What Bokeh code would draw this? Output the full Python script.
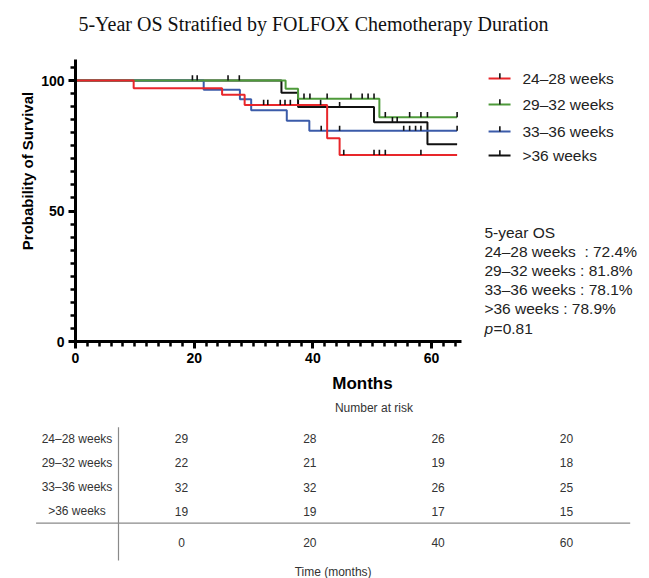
import numpy as np
from bokeh.plotting import figure
from bokeh.models import Range1d, FixedTicker
from bokeh.embed import file_html
from bokeh.resources import INLINE
from bokeh.core.properties import value

# ---------------- data ----------------
groups = ["24\u201328 weeks", "29\u201332 weeks", "33\u201336 weeks", ">36 weeks"]
colors = ["#E8262A", "#4E9A3A", "#3B5BA9", "#111111"]

# Kaplan-Meier step curves (months, % surviving)
red_t = [0, 9.8, 24.7, 28.5, 42.4, 44.5, 64.3]
red_s = [100, 97.0, 94.5, 90.6, 77.9, 71.5, 71.5]
green_t = [0, 35.4, 37.5, 51.2, 64.3]
green_s = [100, 96.8, 93.0, 85.9, 85.9]
blue_t = [0, 21.6, 27.7, 29.6, 35.6, 39.4, 64.3]
blue_s = [100, 96.5, 92.8, 88.6, 84.6, 80.7, 80.7]
black_t = [0, 34.7, 37.5, 50.3, 59.3, 64.3]
black_s = [100, 95.3, 89.8, 84.0, 75.6, 75.6]

# censoring times (months)
red_cens = [31.7, 32.4, 34.5, 35.3, 36.2, 41.3, 45.2, 50.3, 51.2, 52.2, 58.2]
green_cens = [19.7, 20.5, 25.7, 27.6, 38.5, 39.5, 42.4, 46.4, 48.3, 49.3, 50.3,
              52.2, 56.3, 58.2, 59.3, 64.3]
blue_cens = [41.4, 44.5, 55.3, 56.3, 57.3, 58.2, 64.3]
black_cens = [44.5, 53.4, 54.2]

os_lines = ["5-year OS", "24\u201328 weeks\u00a0 : 72.4%", "29\u201332 weeks : 81.8%",
            "33\u201336 weeks : 78.1%", ">36 weeks : 78.9%"]
p_value = "=0.81"

x_ticks = [0, 20, 40, 60]
y_ticks = [0, 50, 100]

risk_times = [0, 20, 40, 60]
risk_24_28 = [29, 28, 26, 20]
risk_29_32 = [22, 21, 19, 18]
risk_33_36 = [32, 32, 26, 25]
risk_gt36 = [19, 19, 17, 15]

# ---------------- KM figure ----------------
FONT = "Liberation Sans"
W = 649
LEFT = 75
FRAME_H = 341
H1 = 398
FRAME_W = W - LEFT
PX_X = 5.935
PX_Y = 2.61

p = figure(width=W, height=H1, output_backend="svg", toolbar_location=None,
           x_range=Range1d(0, FRAME_W / PX_X), y_range=Range1d(0, FRAME_H / PX_Y),
           min_border_left=LEFT, min_border_right=0, min_border_top=0,
           min_border_bottom=H1 - FRAME_H)
p.outline_line_color = None
p.grid.visible = False
p.background_fill_color = "white"
p.border_fill_color = "white"

xa = p.xaxis[0]
xa.bounds = (0, 65)
xa.ticker = FixedTicker(ticks=x_ticks, minor_ticks=list(range(0, 65, 2)))
ya = p.yaxis[0]
ya.bounds = (0, 108)
ya.ticker = FixedTicker(ticks=y_ticks, minor_ticks=list(range(0, 106, 5)))
for ax in (xa, ya):
    ax.axis_line_width = 3
    ax.axis_line_color = "black"
    ax.major_tick_line_width = 3
    ax.major_tick_out = 7
    ax.major_tick_in = 0
    ax.minor_tick_line_width = 2.5
    ax.minor_tick_out = 5
    ax.minor_tick_in = 0
    ax.major_label_text_font = FONT
    ax.major_label_text_font_style = "bold"
    ax.major_label_text_font_size = "14px"
    ax.major_label_text_color = "black"
    ax.axis_label_text_font = FONT
    ax.axis_label_text_font_style = "bold"
    ax.axis_label_text_color = "black"
xa.axis_label = "Months"
xa.axis_label_text_font_size = "17px"
xa.major_label_standoff = 4
xa.axis_label_standoff = 8
ya.axis_label = "Probability of Survival"
ya.axis_label_text_font_size = "15px"
ya.major_label_standoff = 4
ya.axis_label_standoff = 2

curves = [(red_t, red_s, red_cens), (green_t, green_s, green_cens),
          (blue_t, blue_s, blue_cens), (black_t, black_s, black_cens)]

# draw order: black, blue, green, red (red on top)
for i in [3, 2, 1, 0]:
    t, s, _ = curves[i]
    p.step(x=t, y=s, mode="after", line_color=colors[i], line_width=2)

TICK_H = 2.0
for i in [3, 2, 1, 0]:
    t, s, c = curves[i]
    ta = np.array(t)
    sa = np.array(s)
    ca = np.array(c)
    idx = np.searchsorted(ta, ca, side="right") - 1
    lvl = sa[idx]
    p.segment(x0=ca, y0=lvl, x1=ca, y1=lvl + TICK_H, line_color="#111111", line_width=1.6)

# title
p.text(x=[40.1], y=[121.8], text=["5-Year OS Stratified by FOLFOX Chemotherapy Duration"],
       text_font=value("Liberation Serif"), text_font_size=value("20px"),
       text_align="center", text_baseline="middle", text_color="#111111")

# legend (manual)
leg_y = [100.8, 90.8, 80.5, 71.3]
for i in range(4):
    p.segment(x0=[69.6], y0=[leg_y[i]], x1=[73.3], y1=[leg_y[i]],
              line_color=colors[i], line_width=2)
    p.segment(x0=[71.5], y0=[leg_y[i]], x1=[71.5], y1=[leg_y[i] + TICK_H],
              line_color="#111111", line_width=1.6)
p.text(x=[75.3] * 4, y=leg_y, text=groups, text_font=value(FONT),
       text_font_size=value("15.5px"), text_align="left", text_baseline="middle",
       text_color="#222222")

# 5-year OS text block
os_y = [(341 - (232 + 19.1 * k)) / PX_Y for k in range(6)]
p.text(x=[68.9] * 5, y=os_y[:5], text=os_lines, text_font=value(FONT),
       text_font_size=value("15.5px"), text_align="left", text_baseline="middle",
       text_color="#222222")
p.text(x=[68.9], y=[os_y[5]], text=["p"], text_font=value(FONT),
       text_font_size=value("15.5px"), text_font_style="italic", text_align="left",
       text_baseline="middle", text_color="#222222")
p.text(x=[70.45], y=[os_y[5]], text=[p_value], text_font=value(FONT),
       text_font_size=value("15.5px"), text_align="left", text_baseline="middle",
       text_color="#222222")

# ---------------- risk table ----------------
H2 = 578 - H1
page_top = H1
COLW = 128.3
ROWH = 24.1
def col_of(px):
    return (px - 181) / COLW
def row_of(py):
    return (py - 438.3) / ROWH

q = figure(width=W, height=H2, output_backend="svg", toolbar_location=None,
           x_range=Range1d(col_of(0), col_of(W)),
           y_range=Range1d(row_of(page_top + H2), row_of(page_top)),
           x_axis_location=None, y_axis_location=None,
           min_border_left=0, min_border_right=0, min_border_top=0, min_border_bottom=0)
q.outline_line_color = None
q.grid.visible = False

tbl_font = value(FONT)
tbl_size = value("12px")
rows = [risk_24_28, risk_29_32, risk_33_36, risk_gt36]
for r, vals in enumerate(rows):
    q.text(x=list(range(len(vals))), y=[r] * len(vals), text=[str(v) for v in vals],
           text_font=tbl_font, text_font_size=tbl_size, text_align="center",
           text_baseline="middle", text_color="#333333")
q.text(x=[col_of(76.5)] * 4, y=list(range(4)), text=groups, text_font=tbl_font,
       text_font_size=tbl_size, text_align="center", text_baseline="middle",
       text_color="#333333")
q.text(x=list(range(len(risk_times))), y=[row_of(542.3)] * len(risk_times),
       text=[str(v) for v in risk_times], text_font=tbl_font, text_font_size=tbl_size,
       text_align="center", text_baseline="middle", text_color="#333333")
q.text(x=[1.5], y=[row_of(407.7)], text=["Number at risk"], text_font=tbl_font,
       text_font_size=tbl_size, text_align="center", text_baseline="middle",
       text_color="#333333")
q.text(x=[col_of(332.6)], y=[row_of(571.0)], text=["Time (months)"], text_font=tbl_font,
       text_font_size=tbl_size, text_align="center", text_baseline="middle",
       text_color="#333333")
q.segment(x0=[col_of(35.6)], y0=[3.5], x1=[col_of(629.7)], y1=[3.5],
          line_color="#8a8a8a", line_width=1.2)
q.segment(x0=[col_of(118)], y0=[row_of(426.7)], x1=[col_of(118)], y1=[row_of(560)],
          line_color="#8a8a8a", line_width=1.2)

open("out.html", "w").write(file_html([p, q], INLINE))
